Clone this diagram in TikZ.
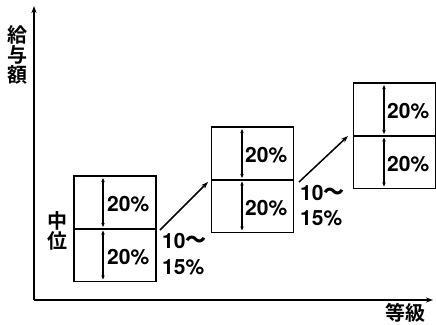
\documentclass[tikz,border=0pt]{standalone}
\usepackage{fontspec}
\setmainfont{TeX Gyre Heros}
\newfontfamily\cjk{Noto Sans CJK JP Bold}
\usetikzlibrary{arrows.meta}
\begin{document}
\begin{tikzpicture}[x=1pt,y=-1pt,
  half/.style={draw,line width=1.8pt,minimum width=82pt,minimum height=53pt,inner sep=0pt},
  pct/.style={font=\bfseries\fontsize{21}{21}\selectfont,inner sep=0pt},
  vt/.style={line width=1.3pt,{Stealth[length=4pt,width=3.5pt]}-{Stealth[length=4pt,width=3.5pt]}},
  step arrow/.style={line width=1.5pt,-{Stealth[length=7pt,width=5pt]}},
  lbl/.style={font=\cjk\fontsize{20}{20}\selectfont,inner sep=0pt},
  axis/.style={line width=2pt,-{Stealth[length=7pt,width=5pt]}}]
\useasboundingbox (0,0) rectangle (436,324);
% axes
\coordinate (O) at (34,300);
\coordinate (ytop) at (34,6);
\coordinate (xend) at (433,300);
\draw[axis] (O) -- (ytop);
\draw[axis] (O) -- (xend);
\node[lbl,anchor=center] (ylab) at (17,55) {\shortstack{給\\[-2pt]与\\[-2pt]額}};
\node[lbl] (xlab) at (405,313) {等級};
% box 1
\node[half] (b1u) at (115,202.5) {};
\node[half] (b1l) at (115,255) {};
\draw[vt] ([xshift=-12pt,yshift=-3pt]b1u.north) -- ([xshift=-12pt,yshift=3pt]b1u.south);
\draw[vt] ([xshift=-12pt,yshift=-3pt]b1l.north) -- ([xshift=-12pt,yshift=3pt]b1l.south);
\node[pct,anchor=west] (p1u) at (107,204) {20\%};
\node[pct,anchor=west] (p1l) at (107,257) {20\%};
\node[lbl] (mid) at (57,231) {\shortstack{中\\[-2pt]位}};
% box 2
\node[half] (b2u) at (252.5,153.5) {};
\node[half] (b2l) at (252.5,206) {};
\draw[vt] ([xshift=-10.5pt,yshift=-3pt]b2u.north) -- ([xshift=-10.5pt,yshift=3pt]b2u.south);
\draw[vt] ([xshift=-10.5pt,yshift=-3pt]b2l.north) -- ([xshift=-10.5pt,yshift=3pt]b2l.south);
\node[pct,anchor=west] (p2u) at (245,155) {20\%};
\node[pct,anchor=west] (p2l) at (245,208) {20\%};
% box 3
\node[half] (b3u) at (394.5,109.5) {};
\node[half] (b3l) at (394.5,162) {};
\draw[vt] ([xshift=-10.5pt,yshift=-3pt]b3u.north) -- ([xshift=-10.5pt,yshift=3pt]b3u.south);
\draw[vt] ([xshift=-10.5pt,yshift=-3pt]b3l.north) -- ([xshift=-10.5pt,yshift=3pt]b3l.south);
\node[pct,anchor=west] (p3u) at (387,111) {20\%};
\node[pct,anchor=west] (p3l) at (387,164) {20\%};
% step arrows
\coordinate (s1) at (160,230);
\coordinate (e1) at (208,182);
\draw[step arrow] (s1) -- (e1);
\coordinate (s2) at (299,182);
\coordinate (e2) at (348,136);
\draw[step arrow] (s2) -- (e2);
\node[pct,anchor=west] (r1a) at (162,241) {10\raisebox{1pt}{\cjk～}};
\node[pct,anchor=west] (r1b) at (162,267) {15\%};
\node[pct,anchor=west] (r2a) at (300,193) {10\raisebox{1pt}{\cjk～}};
\node[pct,anchor=west] (r2b) at (300,218) {15\%};
\end{tikzpicture}
\end{document}
